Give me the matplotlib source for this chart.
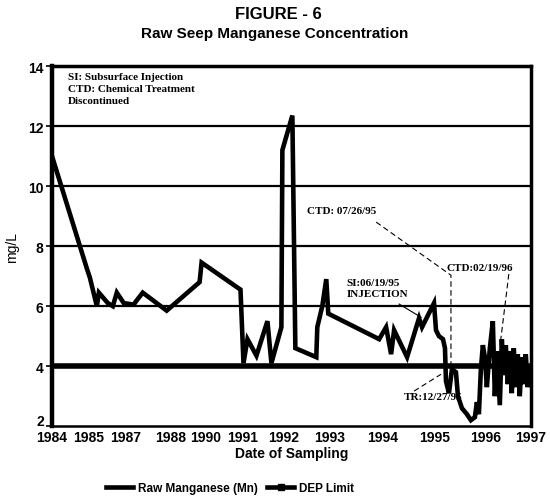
import numpy as np
import matplotlib
matplotlib.use("Agg")
import matplotlib.pyplot as plt
import matplotlib.transforms as mtransforms
from matplotlib.lines import Line2D

# sample position along the category axis, and Mn concentration (mg/L)
SAMPLE_POS = [0, 7.0, 7.6, 9.0, 9.4, 11.2, 12.2, 13.0, 14.4, 16.4, 16.8, 18.2,
              23.0, 29.6, 30.0, 37.8, 38.4, 39.2, 41.0, 43.2, 44.0, 46.0, 46.2,
              48.2, 48.8, 53.0, 53.2, 54.2, 55.0, 55.4, 65.6, 67.0, 68.0, 68.6,
              71.2, 73.6, 74.2, 76.6, 77.0, 77.6, 78.4, 78.8, 79.0, 79.6, 80.2,
              81.0, 81.4, 82.2, 83.2, 84.0, 84.8, 85.2, 85.6, 86.0, 86.4, 86.8,
              87.2, 87.8, 88.4, 88.8, 89.2, 89.8, 90.2, 90.6, 91.0, 91.4, 91.8,
              92.2, 92.6, 93.0, 93.4, 93.8, 94.2, 94.6, 95.0, 95.4, 95.8]
MN = [11.0, 7.25, 6.95, 6.0, 6.45, 6.1, 6.0, 6.45, 6.1, 6.05, 6.15, 6.45,
      5.85, 6.8, 7.45, 6.55, 4.1, 4.9, 4.35, 5.5, 4.1, 5.3, 11.2,
      12.35, 4.6, 4.3, 5.3, 6.0, 6.9, 5.75, 4.9, 5.3, 4.4, 5.2,
      4.3, 5.6, 5.3, 6.1, 5.2, 5.0, 4.9, 4.6, 3.5, 3.1, 3.9,
      3.8, 3.0, 2.6, 2.4, 2.2, 2.3, 2.8, 2.4, 3.9, 4.7, 4.3,
      3.3, 4.6, 5.5, 3.0, 4.5, 2.7, 4.9, 3.7, 4.7, 3.4, 4.5,
      3.1, 4.6, 3.3, 4.4, 3.0, 4.3, 3.4, 4.4, 3.3, 3.9]
DEP_LIMIT = 4.0

YEAR_POS = [0, 7.4, 14.8, 23.8, 30.8, 38.2, 46.4, 55.6, 66.2, 76.8, 87, 96]
YEAR_LABELS = ["1984", "1985", "1987", "1988", "1990", "1991", "1992",
               "1993", "1994", "1995", "1996", "1997"]
Y_TICKS = [2, 4, 6, 8, 10, 12, 14]
GRID_Y = [6, 8, 10, 12]

sans = "Liberation Sans"
serif = "Liberation Serif"

fig = plt.figure(figsize=(5.5, 5.02), dpi=100)
ax = fig.add_axes([0.0945, 0.149, 0.8705, 0.7175])

for g in GRID_Y:
    ax.axhline(g, color="black", lw=1.6, zorder=1)

ax.plot(SAMPLE_POS, MN, color="black", lw=3.3, solid_joinstyle="miter",
        zorder=3)
ax.plot([0, 96], [DEP_LIMIT, DEP_LIMIT], color="black", lw=4.0, zorder=2)

ax.set_xlim(0, 96)
ax.set_ylim(2, 14)
ax.set_yticks(Y_TICKS)
ax.set_yticklabels([str(v) for v in Y_TICKS], fontfamily=sans,
                   fontweight="bold", fontsize=10)
ax.set_xticks(YEAR_POS)
ax.set_xticklabels(YEAR_LABELS, fontfamily=sans, fontweight="bold",
                   fontsize=10)
ax.tick_params(axis="x", length=0, pad=3)
ax.tick_params(axis="y", length=4, width=1.2, pad=2)

# lift the lowest y label a little, as in the original
lift = mtransforms.ScaledTranslation(0, 5 / 72, fig.dpi_scale_trans)
lab2 = ax.get_yticklabels()[0]
lab2.set_transform(lab2.get_transform() + lift)

ax.spines["left"].set_linewidth(3.2)
ax.spines["top"].set_linewidth(2.5)
ax.spines["right"].set_linewidth(2.5)
ax.spines["bottom"].set_linewidth(1.8)

ax.set_ylabel("mg/L", fontfamily=sans, fontsize=10)
ax.yaxis.set_label_coords(-0.068, 0.5)
ax.set_xlabel("Date of Sampling", fontfamily=sans, fontweight="bold",
              fontsize=10, labelpad=1)

fig.text(0.507, 0.972, "FIGURE - 6", ha="center", va="center",
         fontfamily=sans, fontsize=12, fontweight="bold")
fig.text(0.5, 0.933, "Raw Seep Manganese Concentration", ha="center",
         va="center", fontfamily=sans, fontsize=11, fontweight="bold")

note = dict(fontfamily=serif, fontweight="bold", fontsize=8)
ax.text(3.2, 13.8, "SI: Subsurface Injection\nCTD: Chemical Treatment\nDiscontinued",
        va="top", ha="left", linespacing=1.45, **note)
ax.text(51.2, 9.17, "CTD: 07/26/95", va="center", ha="left", **note)
ax.text(59.0, 6.6, "SI:06/19/95\nINJECTION", va="center", ha="left",
        linespacing=1.25, **note)
ax.text(79.2, 7.3, "CTD:02/19/96", va="center", ha="left", **note)
ax.text(70.6, 3.0, "TR:12/27/95", va="center", ha="left", **note)

lead = dict(color="black", lw=0.8, ls=(0, (5, 3)), zorder=4)
ax.plot([65.0, 80.0, 80.0], [8.8, 7.03, 3.9], **lead)
ax.plot([91.6, 90.0], [7.07, 4.9], **lead)
ax.plot([72.6, 78.0], [3.17, 3.73], **lead)
ax.plot([69.6, 74.0], [6.07, 5.63], color="black", lw=0.8, zorder=4)

handles = [Line2D([], [], color="black", lw=3.3),
           Line2D([], [], color="black", lw=3.3, marker="s", markersize=4)]
fig.legend(handles, ["Raw Manganese (Mn)", "DEP Limit"], loc="center",
           bbox_to_anchor=(0.418, 0.025), ncol=2, frameon=False,
           prop={"family": sans, "weight": "bold", "size": 8.5},
           handlelength=2.3, columnspacing=0.8, handletextpad=0.4)

fig.savefig("out.png", dpi=100)
